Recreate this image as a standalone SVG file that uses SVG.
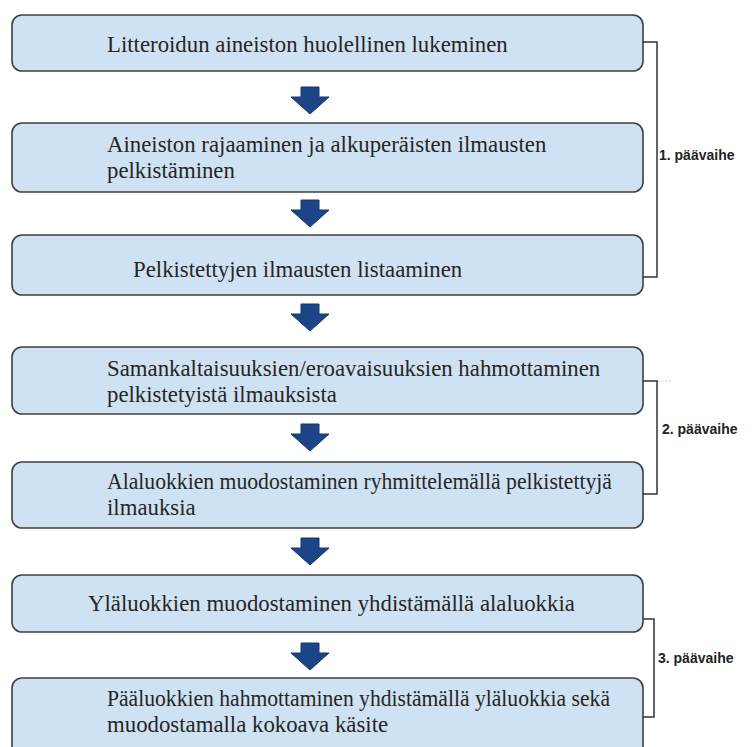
<svg xmlns="http://www.w3.org/2000/svg" xmlns:xlink="http://www.w3.org/1999/xlink" width="754" height="747" viewBox="0 0 754 747">
<style>
.box{fill:#cfe2f3;stroke:#404040;stroke-width:1.6}
.t{font-family:"Liberation Serif","Times New Roman",serif;font-size:22.8px;fill:#262626}
.lbl{font-family:"Liberation Sans",Arial,sans-serif;font-size:14px;font-weight:bold;fill:#222}
.br{fill:none;stroke:#333;stroke-width:1.5}
.arr{fill:#1c4587;stroke:#16386c;stroke-width:1}
</style>
<defs>
<path id="arrow" d="M-9,0 H9 V10 H19 L0,27 L-19,10 H-9 Z"/>
</defs>
<rect width="754" height="747" fill="#fff"/>
<g id="n1"><rect class="box" x="12" y="15" width="631" height="56" rx="10"/><text class="t" x="107" y="52">Litteroidun aineiston huolellinen lukeminen</text></g>
<g id="n2"><rect class="box" x="12" y="123" width="631" height="69" rx="10"/><text class="t" x="107" y="152">Aineiston rajaaminen ja alkuperäisten ilmausten</text><text class="t" x="107" y="178">pelkistäminen</text></g>
<g id="n3"><rect class="box" x="12" y="235" width="631" height="60" rx="10"/><text class="t" x="133" y="277">Pelkistettyjen ilmausten listaaminen</text></g>
<g id="n4"><rect class="box" x="12" y="347" width="631" height="67" rx="10"/><text class="t" x="107" y="376">Samankaltaisuuksien/eroavaisuuksien hahmottaminen</text><text class="t" x="107" y="402">pelkistetyistä ilmauksista</text></g>
<g id="n5"><rect class="box" x="12" y="462" width="631" height="66" rx="10"/><text class="t" x="107" y="489" textLength="505" lengthAdjust="spacingAndGlyphs">Alaluokkien muodostaminen ryhmittelemällä pelkistettyjä</text><text class="t" x="107" y="515">ilmauksia</text></g>
<g id="n6"><rect class="box" x="12" y="575" width="631" height="57" rx="10"/><text class="t" x="88" y="611">Yläluokkien muodostaminen yhdistämällä alaluokkia</text></g>
<g id="n7"><rect class="box" x="12" y="678" width="631" height="90" rx="10"/><text class="t" x="107" y="706" textLength="503" lengthAdjust="spacingAndGlyphs">Pääluokkien hahmottaminen yhdistämällä yläluokkia sekä</text><text class="t" x="107" y="732">muodostamalla kokoava käsite</text></g>
<g id="connectors">
<use xlink:href="#arrow" class="arr" x="310" y="87"/>
<use xlink:href="#arrow" class="arr" x="310" y="200"/>
<use xlink:href="#arrow" class="arr" x="310" y="304"/>
<use xlink:href="#arrow" class="arr" x="310" y="424"/>
<use xlink:href="#arrow" class="arr" x="310" y="538"/>
<use xlink:href="#arrow" class="arr" x="310" y="643"/>
<path class="br" d="M643,42 H657 V277 H643"/>
<path class="br" d="M643,381 H657 V494 H643"/>
<path d="M658,381 H672" stroke="#bbb" stroke-width="1" stroke-dasharray="1.5,2"/>
<path class="br" d="M643,619 H654 V717 H643"/>
</g>
<g id="labels">
<text class="lbl" x="659" y="160">1. päävaihe</text>
<text class="lbl" x="662" y="434">2. päävaihe</text>
<text class="lbl" x="658" y="663">3. päävaihe</text>
</g>
</svg>
